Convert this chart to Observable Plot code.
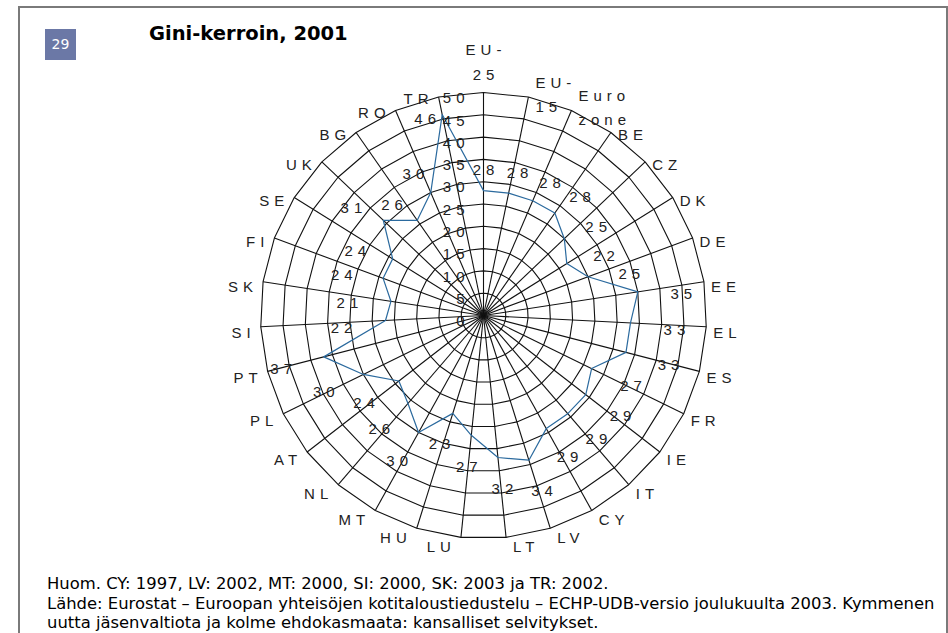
<!DOCTYPE html>
<html><head><meta charset="utf-8">
<script src="https://cdn.jsdelivr.net/npm/d3@7"></script>
<script src="https://cdn.jsdelivr.net/npm/@observablehq/plot@0.6"></script>
<style>
html,body{margin:0;padding:0;background:#fff;}
#wrap{position:relative;width:948px;height:633px;overflow:hidden;background:#fff;}
#frame{position:absolute;left:18px;top:6px;width:930px;height:700px;border:2px solid #7a7a7a;box-sizing:border-box;}
#chart{position:absolute;left:0;top:0;}
#badge{position:absolute;left:45px;top:29px;width:31px;height:31px;background:#6b78a6;color:#fff;font:14px "DejaVu Sans",sans-serif;line-height:31px;text-align:center;}
#title{position:absolute;left:149px;top:24px;font:bold 19.5px "DejaVu Sans",sans-serif;line-height:20px;color:#000;white-space:nowrap;}
#foot{position:absolute;left:47px;top:574px;font:16.4px "DejaVu Sans",sans-serif;line-height:19.5px;color:#000;white-space:nowrap;}
</style></head>
<body><div id="wrap"><div id="frame"></div><div id="chart"></div>
<div id="badge">29</div>
<div id="title">Gini-kerroin, 2001</div>
<div id="foot"></div>
</div>
<script>
const categories = ["EU-25","EU-15","Euro zone","BE","CZ","DK","DE","EE","EL","ES","FR","IE","IT","CY","LV","LT","LU","HU","MT","NL","AT","PL","PT","SI","SK","FI","SE","UK","BG","RO","TR"];
const gini = [28,28,28,28,25,22,25,35,33,33,27,29,29,29,34,32,27,23,30,26,24,30,37,22,21,24,24,31,26,30,46];
const ticks = [0,5,10,15,20,25,30,35,40,45,50];
const footLines = [
  "Huom. CY: 1997, LV: 2002, MT: 2000, SI: 2000, SK: 2003 ja TR: 2002.",
  "Lähde: Eurostat – Euroopan yhteisöjen kotitaloustiedustelu – ECHP-UDB-versio joulukuulta 2003. Kymmenen",
  "uutta jäsenvaltiota ja kolme ehdokasmaata: kansalliset selvitykset."
];
document.getElementById("foot").innerHTML = footLines.join("<br>");

const W = 948, H = 633, CX = 483, CY = 315, RPX = 223, RMAX = d3.max(ticks);
const k = RPX / RMAX;            // pixels per unit
const LS = 5;                    // letter spacing px
const n = categories.length;
const ang = i => i * 2 * Math.PI / n;
const sx = i => Math.sin(ang(i)), cy = i => Math.cos(ang(i));

// rings (spider web)
const rings = [];
for (const r of ticks.slice(1)) for (let i = 0; i <= n; i++) rings.push({r, x: r * sx(i % n), y: r * cy(i % n)});
// spokes
const spokes = categories.map((c, i) => ({x2: RMAX * sx(i), y2: RMAX * cy(i)}));
// data polygon
const pts = gini.map((v, i) => ({x: v * sx(i), y: v * cy(i)}));
pts.push(pts[0]);

// data labels: offset in pixels from point (labels near the outer ring go beside the point)
const dataLabels = gini.map((v, i) => {
  let ox = 44 * sx(i), oy = 3 - 26 * cy(i);
  if (v * k + 26 > RPX) { ox = Math.sign(sx(i)) * 17; oy = 2; }
  ox += LS / 2;
  return {t: String(v), x: v * sx(i) + ox / k, y: v * cy(i) - oy / k};
});
// tick labels on the vertical axis
const tickLabels = ticks.map(t => ({t: String(t), x: (-19 + LS) / k, y: t - 3 / k}));

// category labels
const disp = c => c === "EU-25" || c === "EU-15" ? c.replace("-", "-\n") : c.replace(" ", "\n");
const catStart = [], catEnd = [], catTop = [];
categories.forEach((c, i) => {
  const vx = RMAX * sx(i), vy = RMAX * cy(i);
  const s = sx(i);
  if (i === 0) {
    catTop.push({t: disp(c), x: vx + (LS / 2) / k, y: vy + 13 / k});
  } else if (s > 0) {
    const multi = disp(c).includes("\n");
    catStart.push({t: disp(c), x: vx + 7 / k, y: vy - (multi ? -5 : 3 - 4 * cy(i)) / k});
  } else {
    catEnd.push({t: disp(c), x: vx + (-10 + LS) / k, y: vy - (3 - 4 * cy(i)) / k});
  }
});

const FONT = "Liberation Sans, Arial, sans-serif";
const txt = {fontFamily: FONT, fontSize: 15, fill: "#222", lineHeight: 1.62};

const chart = Plot.plot({
  width: W, height: H, margin: 0,
  x: {domain: [-CX / k, (W - CX) / k], axis: null},
  y: {domain: [-(H - CY) / k, CY / k], axis: null},
  style: "background: transparent; overflow: visible;",
  marks: [
    Plot.line(rings, {x: "x", y: "y", z: "r", stroke: "#111", strokeWidth: 1.1}),
    Plot.link(spokes, {x1: 0, y1: 0, x2: "x2", y2: "y2", stroke: "#111", strokeWidth: 1.1}),
    Plot.line(pts, {x: "x", y: "y", stroke: "#2b6a9e", strokeWidth: 1.2}),
    Plot.text(tickLabels, {x: "x", y: "y", text: "t", textAnchor: "end", ...txt}),
    Plot.text(dataLabels, {x: "x", y: "y", text: "t", textAnchor: "middle", ...txt}),
    Plot.text(catStart, {x: "x", y: "y", text: "t", textAnchor: "start", ...txt}),
    Plot.text(catEnd, {x: "x", y: "y", text: "t", textAnchor: "end", ...txt}),
    Plot.text(catTop, {x: "x", y: "y", text: "t", textAnchor: "middle", lineAnchor: "bottom", ...txt})
  ]
});
d3.select(chart).selectAll("text").attr("letter-spacing", LS);
document.getElementById("chart").appendChild(chart);
</script>
</body></html>
